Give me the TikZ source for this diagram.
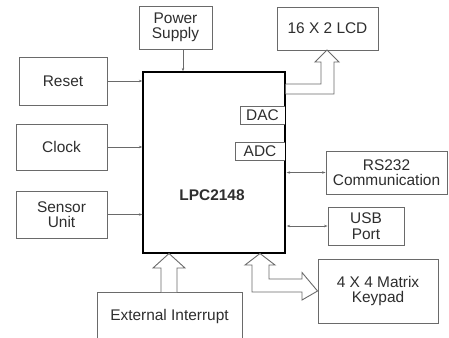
\documentclass[tikz,border=0pt]{standalone}
\usepackage{fontspec}
\setmainfont{Liberation Sans}
\usetikzlibrary{arrows.meta,calc}
\definecolor{boxline}{HTML}{6A6A6A}
\definecolor{txt}{HTML}{2E2E2E}
\tikzset{
  blk/.style={draw=boxline, line width=0.9bp, fill=white, inner sep=0pt, align=center,
    text=txt, font=\fontsize{15.5}{15.5}\selectfont},
  mainblk/.style={draw=black, line width=1.3bp, inner sep=0pt},
  arr/.style={draw=boxline, line width=0.6bp, -{Stealth[length=3.5bp,width=2.5bp]}},
  darr/.style={draw=boxline, line width=0.6bp, {Stealth[length=3.5bp,width=2.5bp]}-{Stealth[length=3.5bp,width=2.5bp]}},
  hollow/.style={draw=boxline, line width=0.9bp, fill=white, line join=miter},
}
\begin{document}
\begin{tikzpicture}[x=1bp,y=-1bp]
\useasboundingbox (0,0) rectangle (449,337);
\clip (0,0) rectangle (449,337);
% main block
\node[mainblk, minimum width=142bp, minimum height=181bp] (lpc) at (214,162.5) {};
\node[font=\fontsize{15.5}{16}\selectfont\bfseries, text=txt] (lpclabel) at (212,195) {LPC2148};
% peripheral blocks
\node[blk, minimum width=73bp, minimum height=43bp] (power) at (175.5,27.5) {Power\\Supply};
\node[blk, minimum width=101bp, minimum height=43bp] (lcd) at (327.5,28.5) {16 X 2 LCD};
\node[blk, minimum width=88bp, minimum height=48bp] (reset) at (63,81) {Reset};
\node[blk, minimum width=91bp, minimum height=46bp] (clock) at (61.5,147) {Clock};
\node[blk, minimum width=91bp, minimum height=47bp] (sensor) at (61.5,214.5) {Sensor\\Unit};
\node[blk, minimum width=45bp, minimum height=18bp] (dac) at (262.5,115) {DAC};
\node[blk, minimum width=50bp, minimum height=18bp] (adc) at (260,151) {ADC};
\node[blk, minimum width=121bp, minimum height=43bp] (rs) at (386.5,172.5) {RS232\\Communication};
\node[blk, minimum width=76bp, minimum height=38bp] (usb) at (366,226) {USB\\Port};
\node[blk, minimum width=120bp, minimum height=64bp] (keypad) at (378,291) {4 X 4 Matrix\\Keypad};
\node[blk, minimum width=145bp, minimum height=48bp] (ext) at (169.5,316) {External Interrupt};
% redraw main right edge over small boxes
\draw[black, line width=1.3bp] (lpc.north east) -- (lpc.south east);
% simple arrows
\draw[arr] ([xshift=7.5bp]power.south) -- ([xshift=7.5bp]power.south |- lpc.north);
\draw[arr] (reset.east) -- (reset.east -| lpc.west);
\draw[arr] (clock.east) -- (clock.east -| lpc.west);
\draw[arr] (sensor.east) -- (sensor.east -| lpc.west);
\draw[darr] ([xshift=1bp]rs.west -| lpc.east) -- (rs.west);
\draw[darr] ([xshift=1bp]usb.west -| lpc.east) -- (usb.west);
% hollow bus arrows
\draw[hollow] (lpc.east |- 0,84) -- (321,84) -- (321,62) -- (315,62) -- (327,50) -- (339,62) -- (334,62) -- (334,94) -- (lpc.east |- 0,94);
\draw[hollow] (161,292) -- (161,268) -- (153,268) -- (169,253.5) -- (185,268) -- (177,268) -- (177,292);
\draw[hollow] (252,292) -- (252,265) -- (245,265) -- (260,253.5) -- (275,265) -- (269,265) -- (269,279) -- (302,279) -- (302,272.5) -- (keypad.west) -- (302,300) -- (302,292) -- cycle;
\end{tikzpicture}
\end{document}
